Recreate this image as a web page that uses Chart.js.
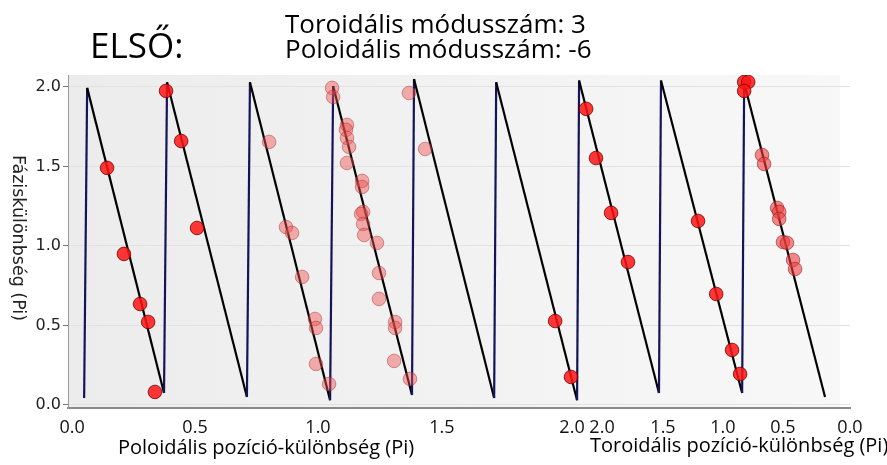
<!DOCTYPE html>
<html>
<head>
<meta charset="utf-8">
<script src="https://cdn.jsdelivr.net/npm/chart.js@4"></script>
<style>
body { margin: 0; background: #fff; }
#wrap { position: relative; width: 887px; height: 465px; overflow: hidden; }
.t { position: absolute; font-family: "Open Sans", sans-serif; color: #000; white-space: nowrap; line-height: 1; }
</style>
</head>
<body>
<div id="wrap">
    <canvas id="chart" width="887" height="465"></canvas>
    <div class="t" style="left:90px;top:27px;font-size:35px;">ELSŐ:</div>
    <div class="t" style="left:285px;top:10px;font-size:26px;">Toroidális módusszám: 3</div>
    <div class="t" style="left:285px;top:35px;font-size:26px;">Poloidális módusszám: -6</div>
    <div class="t" style="left:118px;top:437px;font-size:20px;">Poloidális pozíció-különbség (Pi)</div>
    <div class="t" style="left:590px;top:435px;font-size:20px;">Toroidális pozíció-különbség (Pi)</div>
    <div class="t" style="left:9px;top:155px;font-size:17.5px;font-family:'DejaVu Sans';writing-mode:vertical-rl;color:#222;">Fáziskülönbség (Pi)</div>
</div>
<script>
// x: left part = poloidal difference (0..2), right part = toroidal difference (2..0) squeezed into 2..3
var sawU     = [0.048, 0.060, 0.365, 0.377, 0.694, 0.706, 1.024, 1.036, 1.349, 1.357, 1.675, 1.683, 2.004, 2.012, 2.329, 2.337, 2.659, 2.667, 2.988];
var sawPhase = [0.044, 1.994, 0.075, 2.030, 0.050, 2.030, 0.030, 2.006, 0.063, 2.050, 0.044, 2.030, 0.030, 2.040, 0.075, 2.040, 0.075, 2.025, 0.050];

// measured points
var brightU     = [0.139, 0.206, 0.270, 0.302, 0.329, 0.373, 0.433, 0.496, 1.917, 1.980, 2.040, 2.079, 2.139, 2.206, 2.484, 2.556, 2.619, 2.651, 2.667, 2.683, 2.667];
var brightPhase = [1.491, 0.950, 0.635, 0.522, 0.082, 1.975, 1.660, 1.113, 0.528, 0.176, 1.862, 1.553, 1.208, 0.899, 1.157, 0.698, 0.346, 0.195, 2.031, 2.031, 1.975];

var paleU     = [0.782, 0.849, 0.873, 0.913, 0.964, 0.968, 0.968, 1.020, 1.032, 1.036, 1.091, 1.087, 1.091, 1.099, 1.091, 1.151, 1.151, 1.155, 1.147, 1.155, 1.159, 1.210, 1.218, 1.218, 1.282, 1.282, 1.278, 1.341, 1.337, 1.401];
var palePhase = [1.654, 1.119, 1.082, 0.805, 0.541, 0.484, 0.258, 0.132, 1.994, 1.937, 1.761, 1.730, 1.679, 1.623, 1.522, 1.409, 1.371, 1.214, 1.201, 1.138, 1.069, 1.019, 0.830, 0.667, 0.522, 0.484, 0.277, 0.164, 1.962, 1.610];

var midU     = [2.738, 2.746, 2.798, 2.806, 2.806, 2.821, 2.837, 2.861, 2.869];
var midPhase = [1.572, 1.516, 1.239, 1.214, 1.170, 1.025, 1.019, 0.912, 0.855];

// tick labels as placed in the picture (the right block counts backwards)
var xTickPos    = [0, 0.488, 0.976, 1.468, 1.984, 2.103, 2.345, 2.583, 2.821, 3.087];
var xTickLabels = ['0.0', '0.5', '1.0', '1.5', '2.0', '2.0', '1.5', '1.0', '0.5', '0.0'];
var yTickPos    = [0, 0.5, 1.0, 1.5, 2.0];

function pts(xs, ys) {
    return xs.map(function (x, i) { return { x: x, y: ys[i] }; });
}

// grey plot background
var bgPlugin = {
    id: 'bg',
    beforeDraw: function (chart) {
        var a = chart.chartArea, c = chart.ctx;
        var g = c.createLinearGradient(a.left, 0, a.right, 0);
        g.addColorStop(0, '#ececec');
        g.addColorStop(1, '#f8f8f8');
        c.save();
        c.fillStyle = g;
        c.fillRect(a.left, a.top, a.right - a.left - 10, a.bottom - a.top);
        c.restore();
    }
};

var ctx = document.getElementById('chart').getContext('2d');
new Chart(ctx, {
    type: 'scatter',
    data: {
        datasets: [
            {
                data: pts(brightU, brightPhase),
                backgroundColor: 'rgba(255, 20, 20, 0.85)',
                borderColor: 'rgba(110, 0, 0, 0.8)',
                borderWidth: 1,
                pointRadius: 6.8
            },
            {
                data: pts(midU, midPhase),
                backgroundColor: 'rgba(240, 60, 60, 0.6)',
                borderColor: 'rgba(140, 30, 30, 0.6)',
                borderWidth: 1,
                pointRadius: 6.8
            },
            {
                data: pts(paleU, palePhase),
                backgroundColor: 'rgba(240, 80, 80, 0.45)',
                borderColor: 'rgba(160, 40, 40, 0.45)',
                borderWidth: 1,
                pointRadius: 6.8
            },
            {
                data: pts(sawU, sawPhase),
                showLine: true,
                pointRadius: 0,
                borderWidth: 2.2,
                borderColor: '#000',
                segment: {
                    borderColor: function (s) { return s.p1.parsed.y > s.p0.parsed.y ? '#14145a' : '#000'; }
                }
            }
        ]
    },
    options: {
        responsive: false,
        animation: false,
        layout: { padding: { top: 75, right: 37, left: 0, bottom: 0 } },
        plugins: { legend: { display: false }, tooltip: { enabled: false } },
        scales: {
            x: {
                type: 'linear',
                min: -0.016,
                max: 3.087,
                afterBuildTicks: function (s) { s.ticks = xTickPos.map(function (v) { return { value: v }; }); },
                afterFit: function (s) { s.height = 57; },
                ticks: {
                    autoSkip: false,
                    maxRotation: 0,
                    padding: 1,
                    color: '#111',
                    font: { family: 'Open Sans', size: 18 },
                    callback: function (v, i) { return xTickLabels[i]; }
                },
                grid: { display: false },
                border: { color: '#8a8a8a', width: 2 }
            },
            y: {
                min: -0.019,
                max: 2.075,
                afterBuildTicks: function (s) { s.ticks = yTickPos.map(function (v) { return { value: v }; }); },
                afterFit: function (s) { s.width = 68; },
                ticks: {
                    padding: 2,
                    color: '#222',
                    font: { family: 'DejaVu Sans', size: 16 },
                    callback: function (v) { return v.toFixed(1); }
                },
                grid: { color: '#e2e2e2', tickLength: 5, tickColor: '#777' },
                border: { color: '#999', width: 1 }
            }
        }
    },
    plugins: [bgPlugin]
});
</script>
</body>
</html>
